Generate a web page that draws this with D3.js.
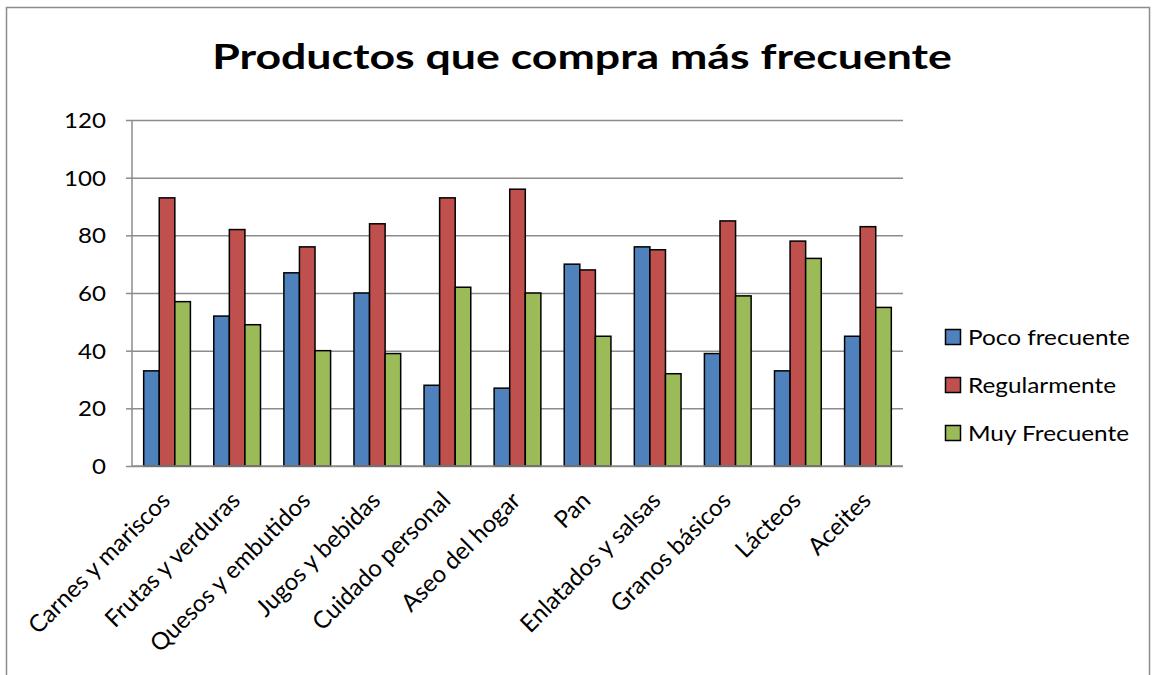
<!DOCTYPE html>
<html><head><meta charset="utf-8">
<script src="https://cdn.jsdelivr.net/npm/d3@7"></script>
<style>body{margin:0;background:#fff}svg{display:block}text{font-family:Lato,"Open Sans",sans-serif}</style>
</head><body><svg id="c" width="1156" height="675"></svg>
<script>
const categories = ["Carnes y mariscos","Frutas y verduras","Quesos y embutidos","Jugos y bebidas","Cuidado personal","Aseo del hogar","Pan","Enlatados y salsas","Granos básicos","Lácteos","Aceites"];
const seriesNames = ["Poco frecuente","Regularmente","Muy Frecuente"];
const pocoFrecuente = [33,52,67,60,28,27,70,76,39,33,45];
const regularmente = [93,82,76,84,93,96,68,75,85,78,83];
const muyFrecuente = [57,49,40,39,62,60,45,32,59,72,55];
const yTicks = [0,20,40,60,80,100,120];
const colors = ["#4F81BD","#C0504D","#9BBB59"];
const title = "Productos que compra más frecuente";

const series = [pocoFrecuente, regularmente, muyFrecuente];
const svg = d3.select("#c");
const L=132, R=903, T=120, B=466;

svg.append("rect").attr("x",6.5).attr("y",7.5).attr("width",1143).attr("height",690)
  .attr("fill","none").attr("stroke","#8c8c8c").attr("stroke-width",1.5);

function stretch(sel, cx, targetW){
  const w = sel.node().getComputedTextLength();
  const s = targetW / w;
  sel.attr("transform",`translate(${cx},0) scale(${s},1) translate(${-cx},0)`);
  return s;
}

const t = svg.append("text").attr("x",582).attr("y",69).attr("text-anchor","middle")
  .attr("font-weight","bold").attr("font-size",35).attr("fill","#000").text(title);
stretch(t, 582, 740);

const y = d3.scaleLinear().domain([0,120]).range([B,T]);
const x0 = d3.scaleBand().domain(categories).range([L,R]).paddingInner(1.5/4.5).paddingOuter(0.75/4.5);
const x1 = d3.scaleBand().domain(d3.range(3)).range([0,x0.bandwidth()]);

const yAxis = d3.axisLeft(y).tickValues(yTicks).tickSize(-(R-L)).tickPadding(26);
const ga = svg.append("g").attr("transform",`translate(${L},0)`).call(yAxis);
ga.select(".domain").remove();
ga.selectAll(".tick line").attr("stroke","#8c8c8c").attr("stroke-width",1.5);
ga.selectAll(".tick text").attr("font-size",21).attr("fill","#000").attr("font-family","Lato,sans-serif")
  .attr("dy","0.36em").each(function(){
    const tx = d3.select(this);
    const w = this.getComputedTextLength();
    const s = 14/(w/tx.text().length);
    const xx = -26;
    tx.attr("transform",`translate(${xx},0) scale(${s},1) translate(${-xx},0)`);
  });
ga.selectAll(".tick").append("line").attr("x1",-6).attr("x2",0).attr("stroke","#8c8c8c").attr("stroke-width",1.5);
svg.append("line").attr("x1",L).attr("x2",L).attr("y1",T).attr("y2",B).attr("stroke","#8c8c8c").attr("stroke-width",1.5);

const g = svg.append("g");
categories.forEach((c,i)=>{
  series.forEach((s,j)=>{
    g.append("rect").attr("x",x0(c)+x1(j)).attr("y",y(s[i]))
      .attr("width",x1.bandwidth()).attr("height",B-y(s[i]))
      .attr("fill",colors[j]).attr("stroke","#000").attr("stroke-width",1.5);
  });
});
svg.append("line").attr("x1",L).attr("x2",R).attr("y1",B).attr("y2",B).attr("stroke","#8c8c8c").attr("stroke-width",1.5);

const xa = d3.axisBottom(d3.scalePoint().domain(categories).range([L+x0.step()/2, R-x0.step()/2])).tickSize(0);
const gx = svg.append("g").attr("transform",`translate(0,${B})`).call(xa);
gx.select(".domain").remove();
gx.selectAll(".tick text").attr("font-size",24).attr("fill","#000").attr("font-family","Lato,sans-serif")
  .attr("text-anchor","end").attr("dy",0).attr("y",0)
  .attr("transform","translate(4,36) rotate(-45)");

const leg = svg.append("g");
let legScale = null;
seriesNames.forEach((n,j)=>{
  const cy = 337 + j*48;
  leg.append("rect").attr("x",945.5).attr("y",cy-7.5).attr("width",15).attr("height",15)
    .attr("fill",colors[j]).attr("stroke","#000").attr("stroke-width",1.5);
  const tx = leg.append("text").attr("x",968).attr("y",cy+8).attr("font-size",22).attr("fill","#000").text(n);
  if (legScale === null) legScale = 162/tx.node().getComputedTextLength();
  tx.attr("transform",`translate(968,0) scale(${legScale},1) translate(-968,0)`);
});
</script></body></html>
